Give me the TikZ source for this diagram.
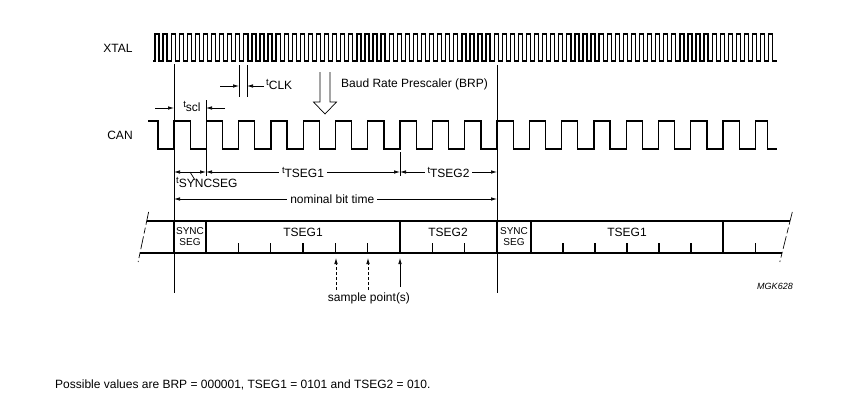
\documentclass[tikz,border=0pt]{standalone}
\usepackage{fontspec}
\setmainfont{Liberation Sans}
\usetikzlibrary{arrows.meta}
% t with a lowered index, as in the timing labels
\newcommand{\tidx}[1]{{\fontsize{9.5}{9.5}\selectfont t}\raisebox{-4pt}{#1}}

\begin{document}
\begin{tikzpicture}[x=1pt,y=-1pt,
  every node/.style={inner sep=1pt,font=\fontsize{12}{12.5}\selectfont},
  wave/.style={line width=1.3pt},
  marker/.style={line width=0.7pt},
  dim/.style={line width=0.7pt,{Latex[length=6pt,width=3.5pt]}-{Latex[length=6pt,width=3.5pt]}},
  dimto/.style={line width=0.7pt,-{Latex[length=6pt,width=3.5pt]}},
  barline/.style={line width=1.2pt},
  small/.style={font=\fontsize{10}{11}\selectfont,align=center}]
\useasboundingbox (0,0) rectangle (844,405);

% signal names
\node (xtal) at (118,48) {XTAL};
\node (can) at (120,135) {CAN};

% waveforms
\draw[wave] (153,61) -- (155,61)
  \foreach \k in {1,...,77} {-- ++(0,-27) -- ++(4.0375,0) -- ++(0,27) -- ++(4.0375,0)};
\draw[wave] (148,121) -- (158,121) -- (158,149) -- (174,149)
  \foreach \k in {1,...,18} {-- ++(0,-28) -- ++(16.15,0) -- ++(0,28) -- ++(16.15,0)}
  -- ++(0,-28) -- ++(12,0) -- ++(0,28) -- ++(10,0);

% marker lines
\coordinate (m0a) at (174,64);  \coordinate (m0b) at (174,293);
\coordinate (m1a) at (206,100); \coordinate (m1b) at (206,176);
\coordinate (c0a) at (239,65);  \coordinate (c0b) at (239,97);
\coordinate (c1a) at (247,65);  \coordinate (c1b) at (247,97);
\coordinate (m7a) at (400,152); \coordinate (m7b) at (400,176);
\coordinate (m10a) at (497,65); \coordinate (m10b) at (497,293);
\draw[marker] (m0a) -- (m0b) (m1a) -- (m1b) (c0a) -- (c0b) (c1a) -- (c1b)
  (m7a) -- (m7b) (m10a) -- (m10b);

% tscl
\coordinate (sl) at (155,108);
\coordinate (sr) at (225,108);
\draw[dimto] (sl) -- (sl -| m0a);
\draw[dimto] (sr) -- (sr -| m1a);
\node (tscl) at (192,106) {\tidx{scl}};

% tCLK
\coordinate (kl) at (220,86);
\coordinate (kr) at (264,86);
\draw[dimto] (kl) -- (kl -| c0a);
\draw[dimto] (kr) -- (kr -| c1a);
\node[anchor=west] (tclk) at (265,84) {\tidx{CLK}};

% prescaler arrow
\draw[marker] (320,72) -- (320,102) -- (313.5,102) -- (325,114) -- (336.5,102) -- (330,102) -- (330,72);
\node[anchor=west] (brp) at (340,84) {Baud Rate Prescaler (BRP)};

% segment times
\coordinate (d0) at (174,172);
\coordinate (d1) at (206,172);
\coordinate (d7) at (400,172);
\draw[dim] (d0) -- (d0 -| m1a);
\draw[dim] (d1) -- (d1 -| m7a) node[midway,fill=white,inner xsep=3pt] (tseg1) {\tidx{TSEG1}};
\draw[dim] (d7) -- (d7 -| m10a) node[midway,fill=white,inner xsep=3pt] (tseg2) {\tidx{TSEG2}};
\draw[marker] (190,172) -- (195,180);
\node[anchor=north west] (tsync) at (175,176) {\tidx{SYNCSEG}};

% nominal bit time
\coordinate (nb) at (174,199);
\draw[dim] (nb) -- (nb -| m10a) node[pos=0.49,fill=white,inner xsep=3pt] (nbt) {nominal bit time};

% bit bar
\draw[barline] (146.7,221) -- (790,221);
\draw[barline] (140,253) -- (782,253);
\draw[marker,dash pattern=on 13pt off 3pt on 6pt off 3pt] (148.6,212) -- (138.1,262);
\draw[marker,dash pattern=on 13pt off 3pt on 6pt off 3pt] (792.3,212) -- (779.8,262);
\foreach \x in {174,206,400,497,531,723}
  \draw[barline] (\x,221) -- (\x,253);
\foreach \x in {238.3,270.6,302.9,335.2,367.5,432.3,464.6,563,595,627,659,691,755.5}
  \draw[barline] (\x,243) -- (\x,253);
\node[small] (sync1) at (190,237) {SYNC\\SEG};
\node (seg1) at (303,232) {TSEG1};
\node (seg2) at (448,232) {TSEG2};
\node[small] (sync2) at (514,237) {SYNC\\SEG};
\node (seg3) at (627,232) {TSEG1};

% sample points
\coordinate (p1) at (336,290);
\coordinate (p2) at (368,290);
\coordinate (p3) at (400,287);
\draw[dimto,dash pattern=on 3pt off 2pt] (p1) -- ++(0,-32);
\draw[dimto,dash pattern=on 3pt off 2pt] (p2) -- ++(0,-32);
\draw[dimto] (p3) -- ++(0,-29);
\node (spt) at (369,298) {sample point(s)};

\node[font=\fontsize{9}{9}\selectfont\itshape] (ref) at (775,286) {MGK628};
\node[anchor=west] (note) at (54,385) {Possible values are BRP = 000001, TSEG1 = 0101 and TSEG2 = 010.};
\end{tikzpicture}
\end{document}
